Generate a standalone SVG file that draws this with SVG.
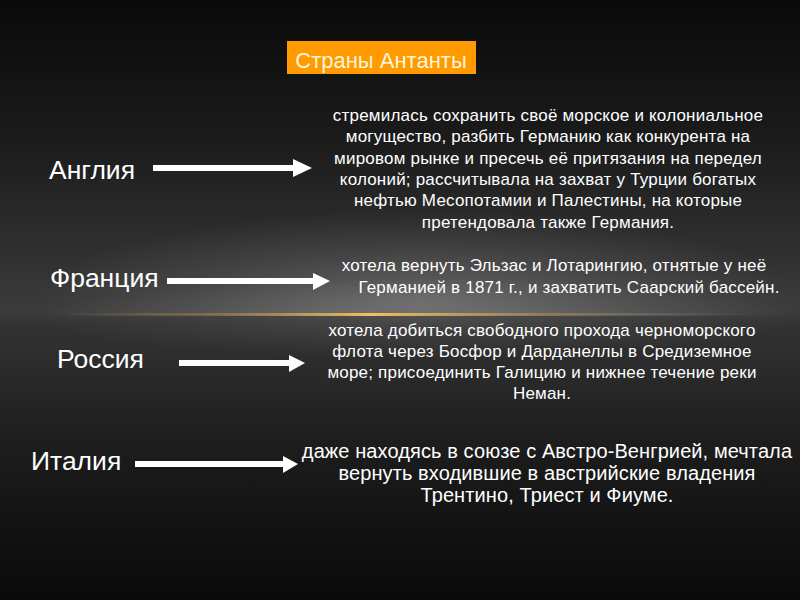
<svg xmlns="http://www.w3.org/2000/svg" width="800" height="600" viewBox="0 0 800 600">
<defs>
<linearGradient id="bg" x1="0" y1="0" x2="0" y2="1">
<stop offset="0" stop-color="#0a0a0a"/>
<stop offset="0.22" stop-color="#1a1a1a"/>
<stop offset="0.45" stop-color="#333333"/>
<stop offset="0.52" stop-color="#3c3c3c"/>
<stop offset="0.54" stop-color="#333333"/>
<stop offset="0.75" stop-color="#1c1c1c"/>
<stop offset="1" stop-color="#0a0a0a"/>
</linearGradient>
<radialGradient id="glow" cx="0.5" cy="0.5" r="0.5">
<stop offset="0" stop-color="#ffffff" stop-opacity="0.22"/>
<stop offset="0.6" stop-color="#ffffff" stop-opacity="0.08"/>
<stop offset="1" stop-color="#ffffff" stop-opacity="0"/>
</radialGradient>
<linearGradient id="line" x1="0" y1="0" x2="1" y2="0">
<stop offset="0" stop-color="#c89040" stop-opacity="0"/>
<stop offset="0.2" stop-color="#a08050" stop-opacity="0.5"/>
<stop offset="0.45" stop-color="#f0c060" stop-opacity="1"/>
<stop offset="0.7" stop-color="#b09060" stop-opacity="0.6"/>
<stop offset="1" stop-color="#909090" stop-opacity="0"/>
</linearGradient>
<clipPath id="above"><rect x="0" y="0" width="800" height="315"/></clipPath>
<style>
.lbl{font-family:"Liberation Sans",Arial,sans-serif;font-size:26.5px;fill:#ffffff}
.desc{font-family:"Liberation Sans",Arial,sans-serif;font-size:17px;letter-spacing:0.2px;fill:#ffffff;text-anchor:middle}
.desc2{font-family:"Liberation Sans",Arial,sans-serif;font-size:20px;letter-spacing:0.1px;fill:#ffffff;text-anchor:middle}
.shaft{fill:#ffffff}
</style>
</defs>
<rect width="800" height="600" fill="url(#bg)"/>
<ellipse cx="420" cy="300" rx="380" ry="90" fill="url(#glow)" clip-path="url(#above)"/>
<ellipse cx="420" cy="318" rx="380" ry="40" fill="url(#glow)" opacity="0.5"/>
<rect x="60" y="313" width="690" height="3" fill="url(#line)"/>

<g id="title">
<rect x="287" y="41" width="189" height="33" fill="#ff9a00"/>
<text x="381" y="68" text-anchor="middle" font-family="Liberation Sans, Arial, sans-serif" font-size="22" fill="#fff5d8">Страны Антанты</text>
</g>

<g id="england">
<text class="lbl" x="49" y="179">Англия</text>
<text class="desc" x="548" y="121">стремилась сохранить своё морское и колониальное</text>
<text class="desc" x="548" y="142">могущество, разбить Германию как конкурента на</text>
<text class="desc" x="548" y="163.5">мировом рынке и пресечь её притязания на передел</text>
<text class="desc" x="548" y="185">колоний; рассчитывала на захват у Турции богатых</text>
<text class="desc" x="548" y="206">нефтью Месопотамии и Палестины, на которые</text>
<text class="desc" x="548" y="227.5">претендовала также Германия.</text>
</g>

<g id="france">
<text class="lbl" x="50" y="287">Франция</text>
<text class="desc" x="554" y="270.5">хотела вернуть Эльзас и Лотарингию, отнятые у неё</text>
<text class="desc" x="569" y="292.5">Германией в 1871 г., и захватить Саарский бассейн.</text>
</g>

<g id="russia">
<text class="lbl" x="57" y="368">Россия</text>
<text class="desc" x="542" y="336">хотела добиться свободного прохода черноморского</text>
<text class="desc" x="542" y="357">флота через Босфор и Дарданеллы в Средиземное</text>
<text class="desc" x="542" y="377.5">море; присоединить Галицию и нижнее течение реки</text>
<text class="desc" x="542" y="398.5">Неман.</text>
</g>

<g id="italy">
<text class="lbl" x="31" y="470">Италия</text>
<text class="desc2" x="547" y="458">даже находясь в союзе с Австро-Венгрией, мечтала</text>
<text class="desc2" x="547" y="480">вернуть входившие в австрийские владения</text>
<text class="desc2" x="547" y="502">Трентино, Триест и Фиуме.</text>
</g>

<g id="connectors">
<rect class="shaft" x="153" y="165" width="142" height="6"/>
<polygon class="shaft" points="293,159 312,168 293,177"/>
<rect class="shaft" x="167" y="278" width="148" height="6"/>
<polygon class="shaft" points="313,273 330,281 313,290"/>
<rect class="shaft" x="179" y="360" width="112" height="6"/>
<polygon class="shaft" points="289,355 305,363 289,372"/>
<rect class="shaft" x="135" y="461" width="150" height="6"/>
<polygon class="shaft" points="283,456 298,464 283,473"/>
</g>
</svg>
